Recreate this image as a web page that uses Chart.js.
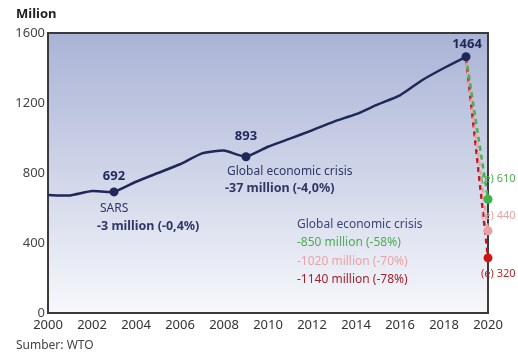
<!DOCTYPE html>
<html>
<head>
<meta charset="utf-8">
<script src="https://cdn.jsdelivr.net/npm/chart.js@4.4.1/dist/chart.umd.min.js"></script>
<style>
  html, body { margin: 0; padding: 0; background: #fff; }
  #wrap { width: 518px; height: 355px; }
</style>
</head>
<body>
<div id="wrap"><canvas id="chart" width="518" height="355"></canvas></div>
<script>
// tourist arrivals, million
const years = [2000, 2001, 2002, 2003, 2004, 2005, 2006, 2007, 2008, 2009, 2010, 2011, 2012, 2013, 2014, 2015, 2016, 2017, 2018, 2019];
const arrivals = [674, 672, 697, 692, 750, 800, 850, 912, 928, 893, 950, 996, 1044, 1094, 1136, 1192, 1244, 1330, 1400, 1464];

// 2020 scenarios
const scenarioYears = [2019, 2020];
const scenarioGreen = [1464, 650];
const scenarioPink = [1464, 470];
const scenarioRed = [1464, 315];
const scenarioLabels = ["(e) 610", "(e) 440", "(e) 320"];

const yTicks = [0, 400, 800, 1200, 1600];
const xTicks = [2000, 2002, 2004, 2006, 2008, 2010, 2012, 2014, 2016, 2018, 2020];

const FONT = "'Noto Sans', sans-serif";
const NAVY = "#1f2858";
const GREEN = "#4cae4f";
const PINK = "#e9a3a3";
const RED = "#c4161c";

function pts(xs, ys) {
  return xs.map((x, i) => ({ x: x, y: ys[i] }));
}

const framePlugin = {
  id: "frame",
  beforeDatasetsDraw(chart) {
    const { ctx, chartArea: a } = chart;
    const g = ctx.createLinearGradient(0, a.top, 0, a.bottom);
    g.addColorStop(0, "#a9b3d5");
    g.addColorStop(0.55, "#d3d8ea");
    g.addColorStop(1, "#f7f8fc");
    ctx.save();
    ctx.fillStyle = g;
    ctx.fillRect(a.left, a.top, a.right - a.left, a.bottom - a.top);
    ctx.strokeStyle = "#3a3a3a";
    ctx.lineWidth = 2;
    ctx.strokeRect(a.left, a.top, a.right - a.left, a.bottom - a.top);
    ctx.restore();
  },
  afterDraw(chart) {
    const { ctx, scales } = chart;
    const sx = v => scales.x.getPixelForValue(v);
    const sy = v => scales.y.getPixelForValue(v);
    ctx.save();
    ctx.textBaseline = "middle";

    ctx.fillStyle = "#222";
    ctx.font = "bold 13px " + FONT;
    ctx.textAlign = "left";
    ctx.fillText("Milion", 16, 14);

    ctx.fillStyle = "#444";
    ctx.font = "12px " + FONT;
    ctx.fillText("Sumber: WTO", 16, 346);

    // point values
    ctx.fillStyle = NAVY;
    ctx.font = "bold 13px " + FONT;
    ctx.textAlign = "center";
    ctx.fillText(String(arrivals[3]), sx(years[3]), sy(arrivals[3]) - 16);
    ctx.fillText(String(arrivals[9]), sx(years[9]), sy(arrivals[9]) - 20);
    ctx.fillText(String(arrivals[19]), sx(years[19]) + 1, sy(arrivals[19]) - 13);

    ctx.textAlign = "left";
    ctx.font = "12px " + FONT;
    ctx.fillStyle = "#2e3766";
    ctx.fillText("SARS", sx(years[3]) - 14, sy(arrivals[3]) + 17);
    ctx.font = "bold 12.5px " + FONT;
    ctx.fillText("-3 million (-0,4%)", sx(years[3]) - 17, sy(arrivals[3]) + 35);

    ctx.font = "12px " + FONT;
    ctx.fillText("Global economic crisis", sx(years[9]) - 19, sy(arrivals[9]) + 15);
    ctx.font = "bold 12.5px " + FONT;
    ctx.fillText("-37 million (-4,0%)", sx(years[9]) - 21, sy(arrivals[9]) + 32);

    ctx.font = "12px " + FONT;
    ctx.fillStyle = "#3d4470";
    ctx.fillText("Global economic crisis", 297, 225);
    ctx.fillStyle = GREEN;
    ctx.fillText("-850 million (-58%)", 297, 243);
    ctx.fillStyle = PINK;
    ctx.fillText("-1020 million (-70%)", 297, 262);
    ctx.fillStyle = "#a5222c";
    ctx.fillText("-1140 million (-78%)", 297, 280);

    // scenario value labels
    ctx.font = "11px " + FONT;
    const xr = sx(2020) - 7;
    ctx.fillStyle = GREEN;
    ctx.fillText(scenarioLabels[0], xr, sy(scenarioGreen[1]) - 20);
    ctx.fillStyle = PINK;
    ctx.fillText(scenarioLabels[1], xr, sy(scenarioPink[1]) - 15);
    ctx.fillStyle = "#b22a2a";
    ctx.fillText(scenarioLabels[2], xr, sy(scenarioRed[1]) + 16);
    ctx.restore();
  }
};

function scenario(data, color, dot, offset) {
  return {
    data: pts(scenarioYears, data),
    borderColor: color,
    borderWidth: 2.5,
    borderDash: [5, 4],
    borderDashOffset: offset,
    pointRadius: [0, 4.5],
    pointBackgroundColor: dot,
    pointBorderWidth: 0,
    clip: false
  };
}

new Chart(document.getElementById("chart"), {
  type: "line",
  data: {
    datasets: [
      {
        data: pts(years, arrivals),
        borderColor: NAVY,
        borderWidth: 2.5,
        tension: 0.15,
        pointRadius: years.map((y, i) => (i === 3 || i === 9 || i === 19) ? 4.5 : 0),
        pointBackgroundColor: NAVY,
        pointBorderWidth: 0,
        clip: false
      },
      scenario(scenarioGreen, GREEN, "#3db545", 0),
      scenario(scenarioPink, PINK, "#e8a2a2", 3),
      scenario(scenarioRed, RED, "#d01414", 6)
    ]
  },
  options: {
    responsive: false,
    animation: false,
    layout: { padding: { left: 0, right: 30, top: 33, bottom: 0 } },
    plugins: { legend: { display: false }, tooltip: { enabled: false } },
    scales: {
      x: {
        type: "linear",
        min: 2000,
        max: 2020,
        afterBuildTicks: s => { s.ticks = xTicks.map(v => ({ value: v })); },
        afterFit: s => { s.height = 42; },
        grid: { display: false, drawTicks: false },
        border: { display: false },
        ticks: { color: "#333", font: { family: FONT, size: 13 }, padding: 4, maxRotation: 0, callback: v => String(v) }
      },
      y: {
        min: 0,
        max: 1600,
        afterBuildTicks: s => { s.ticks = yTicks.map(v => ({ value: v })); },
        afterFit: s => { s.width = 48; },
        grid: { display: false, drawTicks: false },
        border: { display: false },
        ticks: { color: "#444", font: { family: FONT, size: 13 }, padding: 3, callback: v => String(v) }
      }
    }
  },
  plugins: [framePlugin]
});
</script>
</body>
</html>
